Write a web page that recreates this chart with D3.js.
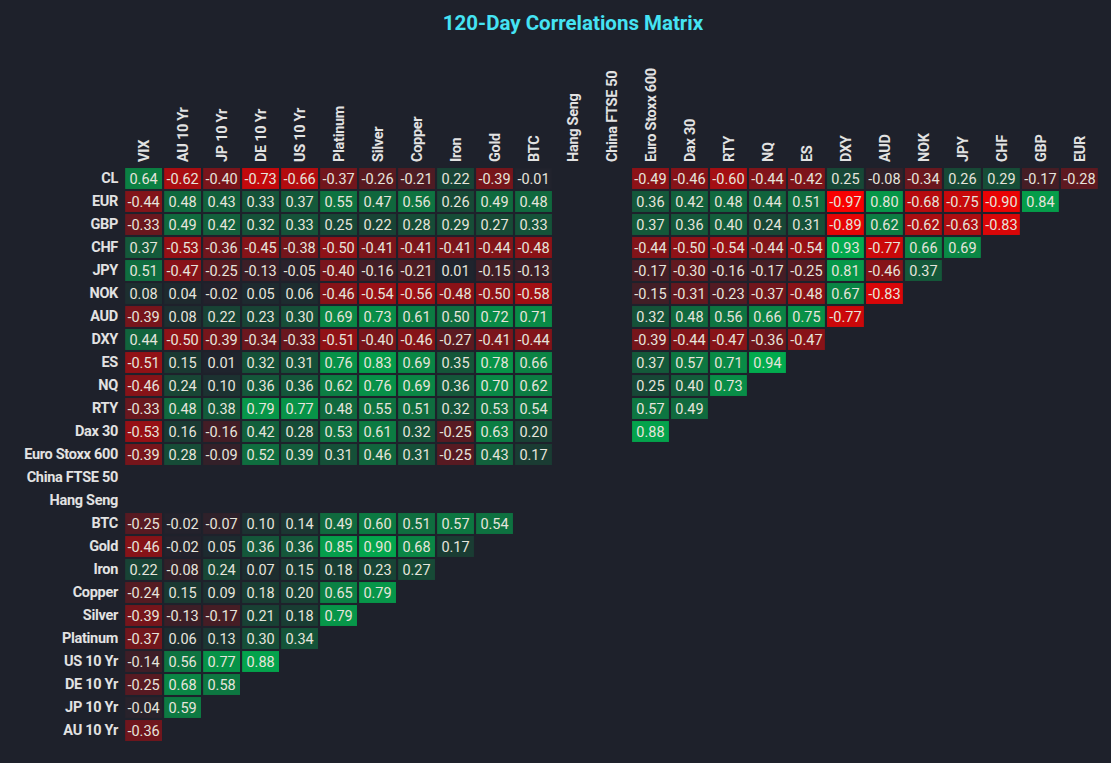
<!DOCTYPE html>
<html>
<head>
<meta charset="utf-8">
<script src="https://cdn.jsdelivr.net/npm/d3@7"></script>
<style>
  html, body { margin: 0; padding: 0; background: #1e212b; }
  svg { display: block; font-family: Roboto, 'Noto Sans', sans-serif; }
</style>
</head>
<body>
<div id="chart"></div>
<script>
// ── Data ──
const colLabels = ['VIX', 'AU 10 Yr', 'JP 10 Yr', 'DE 10 Yr', 'US 10 Yr', 'Platinum', 'Silver', 'Copper',
  'Iron', 'Gold', 'BTC', 'Hang Seng', 'China FTSE 50', 'Euro Stoxx 600', 'Dax 30', 'RTY', 'NQ', 'ES',
  'DXY', 'AUD', 'NOK', 'JPY', 'CHF', 'GBP', 'EUR'];

const rowLabels = ['CL', 'EUR', 'GBP', 'CHF', 'JPY', 'NOK', 'AUD', 'DXY', 'ES', 'NQ', 'RTY', 'Dax 30',
  'Euro Stoxx 600', 'China FTSE 50', 'Hang Seng', 'BTC', 'Gold', 'Iron', 'Copper', 'Silver', 'Platinum',
  'US 10 Yr', 'DE 10 Yr', 'JP 10 Yr', 'AU 10 Yr'];

// one array per row, in column order (null = no value)
const rowCL      = [0.64, -0.62, -0.40, -0.73, -0.66, -0.37, -0.26, -0.21, 0.22, -0.39, -0.01, null, null, -0.49, -0.46, -0.60, -0.44, -0.42, 0.25, -0.08, -0.34, 0.26, 0.29, -0.17, -0.28];
const rowEUR     = [-0.44, 0.48, 0.43, 0.33, 0.37, 0.55, 0.47, 0.56, 0.26, 0.49, 0.48, null, null, 0.36, 0.42, 0.48, 0.44, 0.51, -0.97, 0.80, -0.68, -0.75, -0.90, 0.84];
const rowGBP     = [-0.33, 0.49, 0.42, 0.32, 0.33, 0.25, 0.22, 0.28, 0.29, 0.27, 0.33, null, null, 0.37, 0.36, 0.40, 0.24, 0.31, -0.89, 0.62, -0.62, -0.63, -0.83];
const rowCHF     = [0.37, -0.53, -0.36, -0.45, -0.38, -0.50, -0.41, -0.41, -0.41, -0.44, -0.48, null, null, -0.44, -0.50, -0.54, -0.44, -0.54, 0.93, -0.77, 0.66, 0.69];
const rowJPY     = [0.51, -0.47, -0.25, -0.13, -0.05, -0.40, -0.16, -0.21, 0.01, -0.15, -0.13, null, null, -0.17, -0.30, -0.16, -0.17, -0.25, 0.81, -0.46, 0.37];
const rowNOK     = [0.08, 0.04, -0.02, 0.05, 0.06, -0.46, -0.54, -0.56, -0.48, -0.50, -0.58, null, null, -0.15, -0.31, -0.23, -0.37, -0.48, 0.67, -0.83];
const rowAUD     = [-0.39, 0.08, 0.22, 0.23, 0.30, 0.69, 0.73, 0.61, 0.50, 0.72, 0.71, null, null, 0.32, 0.48, 0.56, 0.66, 0.75, -0.77];
const rowDXY     = [0.44, -0.50, -0.39, -0.34, -0.33, -0.51, -0.40, -0.46, -0.27, -0.41, -0.44, null, null, -0.39, -0.44, -0.47, -0.36, -0.47];
const rowES      = [-0.51, 0.15, 0.01, 0.32, 0.31, 0.76, 0.83, 0.69, 0.35, 0.78, 0.66, null, null, 0.37, 0.57, 0.71, 0.94];
const rowNQ      = [-0.46, 0.24, 0.10, 0.36, 0.36, 0.62, 0.76, 0.69, 0.36, 0.70, 0.62, null, null, 0.25, 0.40, 0.73];
const rowRTY     = [-0.33, 0.48, 0.38, 0.79, 0.77, 0.48, 0.55, 0.51, 0.32, 0.53, 0.54, null, null, 0.57, 0.49];
const rowDax     = [-0.53, 0.16, -0.16, 0.42, 0.28, 0.53, 0.61, 0.32, -0.25, 0.63, 0.20, null, null, 0.88];
const rowStoxx   = [-0.39, 0.28, -0.09, 0.52, 0.39, 0.31, 0.46, 0.31, -0.25, 0.43, 0.17];
const rowChina   = [];
const rowHangSeng = [];
const rowBTC     = [-0.25, -0.02, -0.07, 0.10, 0.14, 0.49, 0.60, 0.51, 0.57, 0.54];
const rowGold    = [-0.46, -0.02, 0.05, 0.36, 0.36, 0.85, 0.90, 0.68, 0.17];
const rowIron    = [0.22, -0.08, 0.24, 0.07, 0.15, 0.18, 0.23, 0.27];
const rowCopper  = [-0.24, 0.15, 0.09, 0.18, 0.20, 0.65, 0.79];
const rowSilver  = [-0.39, -0.13, -0.17, 0.21, 0.18, 0.79];
const rowPlat    = [-0.37, 0.06, 0.13, 0.30, 0.34];
const rowUS10    = [-0.14, 0.56, 0.77, 0.88];
const rowDE10    = [-0.25, 0.68, 0.58];
const rowJP10    = [-0.04, 0.59];
const rowAU10    = [-0.36];

const matrix = [rowCL, rowEUR, rowGBP, rowCHF, rowJPY, rowNOK, rowAUD, rowDXY, rowES, rowNQ, rowRTY,
  rowDax, rowStoxx, rowChina, rowHangSeng, rowBTC, rowGold, rowIron, rowCopper, rowSilver, rowPlat,
  rowUS10, rowDE10, rowJP10, rowAU10];

// ── Setup ──
const W = 1111, H = 763;
const bg = '#1e212b';

const svg = d3.select('#chart')
  .append('svg')
  .attr('width', W)
  .attr('height', H);

svg.append('rect').attr('width', W).attr('height', H).attr('fill', bg);

const x = d3.scaleBand()
  .domain(colLabels)
  .range([124, 1099])
  .paddingInner(0.055)
  .paddingOuter(0.03);

const y = d3.scaleBand()
  .domain(rowLabels)
  .range([167, 742])
  .paddingInner(0.09)
  .paddingOuter(0.045);

const color = d3.scaleLinear()
  .domain([-1, 0, 1])
  .range(['#ff0000', '#1f232d', '#00b450'])
  .clamp(true);

// flatten to cells
const cells = [];
matrix.forEach((row, i) => {
  row.forEach((v, j) => {
    if (v !== null && v !== undefined) cells.push({ row: rowLabels[i], col: colLabels[j], value: v });
  });
});

// ── Title ──
svg.append('text')
  .attr('x', 573)
  .attr('y', 30)
  .attr('text-anchor', 'middle')
  .attr('fill', '#45e3f3')
  .style('font-size', '20.5px')
  .style('font-weight', '700')
  .text('120-Day Correlations Matrix');

// ── Cells ──
svg.selectAll('rect.cell')
  .data(cells)
  .enter()
  .append('rect')
  .attr('class', 'cell')
  .attr('x', d => x(d.col))
  .attr('y', d => y(d.row))
  .attr('width', x.bandwidth())
  .attr('height', y.bandwidth())
  .attr('fill', d => color(d.value));

svg.selectAll('text.val')
  .data(cells)
  .enter()
  .append('text')
  .attr('class', 'val')
  .attr('x', d => x(d.col) + x.bandwidth() / 2)
  .attr('y', d => y(d.row) + y.bandwidth() / 2)
  .attr('dy', '0.36em')
  .attr('text-anchor', 'middle')
  .attr('fill', '#e6e4dc')
  .style('font-size', '14.5px')
  .text(d => d.value.toFixed(2));

// ── Axes ──
const yAxis = svg.append('g')
  .attr('transform', 'translate(124,0)')
  .call(d3.axisLeft(y).tickSize(0).tickPadding(6));
yAxis.select('.domain').remove();
yAxis.selectAll('text')
  .attr('fill', '#e2e2e2')
  .style('font-size', '14.5px')
  .style('font-weight', '700')
  .style('letter-spacing', '-0.3px')
  .style('font-family', 'Roboto, sans-serif');

const xAxis = svg.append('g')
  .attr('transform', 'translate(0,162)')
  .call(d3.axisTop(x).tickSize(0).tickPadding(0));
xAxis.select('.domain').remove();
xAxis.selectAll('text')
  .attr('fill', '#e2e2e2')
  .attr('transform', 'rotate(-90)')
  .attr('x', 0)
  .attr('y', 0)
  .attr('dy', '0.36em')
  .attr('text-anchor', 'start')
  .style('font-size', '14.5px')
  .style('font-weight', '700')
  .style('letter-spacing', '-0.3px')
  .style('font-family', 'Roboto, sans-serif');
</script>
</body>
</html>
